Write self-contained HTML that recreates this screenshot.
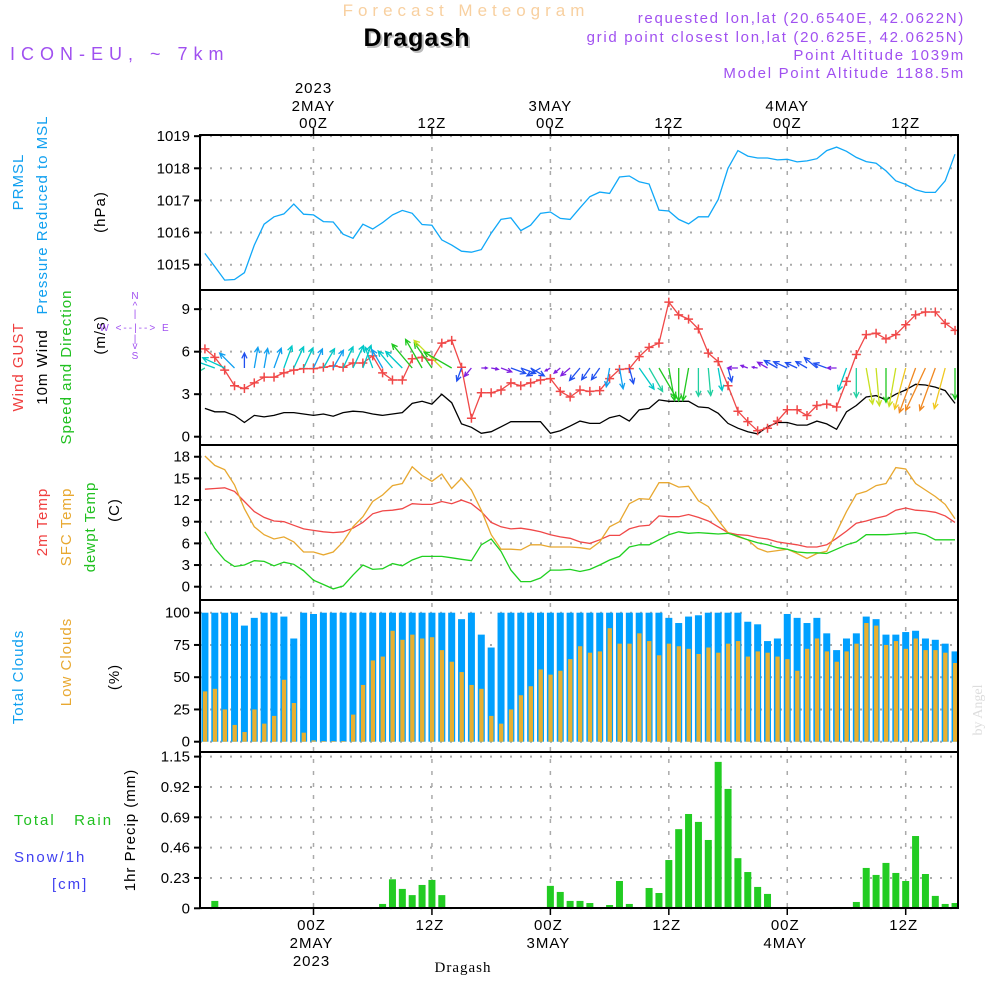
<!DOCTYPE html>
<html><head><meta charset="utf-8"><title>Meteogram Dragash</title>
<style>
html,body{margin:0;padding:0;background:#fff;}
svg{display:block;font-family:"Liberation Sans",sans-serif;}
.t{font-size:15px;letter-spacing:1px;}
.tick{font-size:15px;text-anchor:end;}
.pur{fill:#a050f0;font-size:15px;letter-spacing:1.7px;}
</style></head>
<body>
<svg id="chart" width="1000" height="1000" viewBox="0 0 1000 1000">
<defs><clipPath id="plotclip"><rect x="200" y="135" width="758" height="775"/></clipPath></defs>
<text x="466" y="16" text-anchor="middle" style="font-size:17px;fill:#f8d0a0;letter-spacing:5px">Forecast Meteogram</text>
<text x="419" y="48" text-anchor="middle" style="font-size:25px;font-weight:bold;fill:#bbb;letter-spacing:1px">Dragash</text>
<text x="417" y="46" text-anchor="middle" style="font-size:25px;font-weight:bold;fill:#000;letter-spacing:1px">Dragash</text>
<text x="10" y="60" class="pur" style="font-size:18px;letter-spacing:6px">ICON-EU, ~ 7km</text>
<text x="965" y="23" text-anchor="end" class="pur">requested lon,lat (20.6540E, 42.0622N)</text>
<text x="965" y="42" text-anchor="end" class="pur">grid point closest lon,lat (20.625E, 42.0625N)</text>
<text x="965" y="60" text-anchor="end" class="pur">Point Altitude 1039m</text>
<text x="965" y="78" text-anchor="end" class="pur">Model Point Altitude 1188.5m</text>

<g class="t">
<text transform="translate(23,182) rotate(-90)" text-anchor="middle" fill="#10a0f0">PRMSL</text>
<text transform="translate(47,215) rotate(-90)" text-anchor="middle" fill="#10a0f0">Pressure Reduced to MSL</text>
<text transform="translate(105,212) rotate(-90)" text-anchor="middle" fill="#000">(hPa)</text>
<text transform="translate(23,367) rotate(-90)" text-anchor="middle" fill="#f04040">Wind GUST</text>
<text transform="translate(47,367) rotate(-90)" text-anchor="middle" fill="#000">10m Wind</text>
<text transform="translate(71,367) rotate(-90)" text-anchor="middle" fill="#20c020">Speed and Direction</text>
<text transform="translate(105,335) rotate(-90)" text-anchor="middle" fill="#000">(m/s)</text>
<text transform="translate(47,522) rotate(-90)" text-anchor="middle" fill="#f04040">2m Temp</text>
<text transform="translate(71,527) rotate(-90)" text-anchor="middle" fill="#e8a830">SFC Temp</text>
<text transform="translate(95,527) rotate(-90)" text-anchor="middle" fill="#20c020">dewpt Temp</text>
<text transform="translate(119,510) rotate(-90)" text-anchor="middle" fill="#000">(C)</text>
<text transform="translate(23,677) rotate(-90)" text-anchor="middle" fill="#10a0f0">Total Clouds</text>
<text transform="translate(71,662) rotate(-90)" text-anchor="middle" fill="#e8a830">Low Clouds</text>
<text transform="translate(119,677) rotate(-90)" text-anchor="middle" fill="#000">(%)</text>
<text x="14" y="825" fill="#20c020" style="letter-spacing:2px" xml:space="preserve">Total   Rain</text>
<text x="14" y="862" fill="#4040f0" style="letter-spacing:2px">Snow/1h</text>
<text x="52" y="889" fill="#4040f0" style="letter-spacing:2px">[cm]</text>
<text transform="translate(135,830) rotate(-90)" text-anchor="middle" fill="#000">1hr Precip (mm)</text>
</g>
<g style="font-size:10px;fill:#a050f0" text-anchor="middle">
<text x="135" y="299">N</text><text x="135" y="309">^</text><text x="135" y="317">|</text>
<text x="135" y="331" style="letter-spacing:2px">W &lt;--|--&gt; E</text>
<text x="135" y="342">|</text><text x="135" y="349">v</text><text x="135" y="359">S</text>
</g>
<text transform="translate(982,710) rotate(-90)" text-anchor="middle" style="font-size:14px;fill:#ddd;font-family:'Liberation Serif',serif">by Angel</text>
<text x="463" y="972" text-anchor="middle" style="font-size:15px;font-family:'Liberation Serif',serif;letter-spacing:1px">Dragash</text>
<g id="grid"></g>
<g id="marks" clip-path="url(#plotclip)"></g>
<g id="frames"></g>
<g id="labels"></g>
</svg>
<script>
const startHour = -11;
const pressure = [1015.35,1014.94,1014.52,1014.54,1014.75,1015.61,1016.26,1016.49,1016.58,1016.89,
1016.57,1016.55,1016.34,1016.33,1015.95,1015.82,1016.26,1016.11,1016.31,1016.55,
1016.69,1016.60,1016.25,1016.23,1015.77,1015.61,1015.42,1015.39,1015.47,1015.98,
1016.41,1016.46,1016.06,1016.23,1016.60,1016.64,1016.44,1016.41,1016.77,1017.12,
1017.26,1017.22,1017.73,1017.76,1017.58,1017.51,1016.70,1016.67,1016.41,1016.27,
1016.49,1016.49,1017.03,1018.0,1018.55,1018.38,1018.32,1018.32,1018.26,1018.28,
1018.20,1018.23,1018.30,1018.55,1018.66,1018.53,1018.34,1018.21,1018.16,1017.92,
1017.61,1017.50,1017.33,1017.25,1017.25,1017.61,1018.44];
const gust = [6.2,5.6,4.7,3.6,3.4,3.8,4.2,4.2,4.5,4.7,
4.8,4.8,4.9,5.0,4.9,5.2,5.2,5.7,4.5,4.0,
4.0,5.5,5.6,5.4,6.6,6.8,4.9,1.3,3.1,3.1,
3.3,3.8,3.6,3.8,4.0,4.1,3.2,2.8,3.3,3.2,
3.25,4.1,4.75,4.8,5.65,6.3,6.6,9.5,8.6,8.3,
7.6,5.9,5.3,3.6,1.8,1.06,0.42,0.6,1.1,1.9,
1.9,1.5,2.2,2.3,2.1,3.9,5.8,7.2,7.3,6.9,
7.2,7.9,8.6,8.8,8.8,8.0,7.5];
const windSpeed = [2.0,1.76,1.76,1.5,1.0,1.5,1.4,1.5,1.7,1.7,
1.6,1.5,1.6,1.45,1.7,1.8,1.75,1.6,1.5,1.6,
1.7,2.35,2.5,2.3,3.0,2.4,0.9,0.66,0.24,0.35,
0.7,1.06,1.06,1.06,1.06,0.24,0.42,0.75,1.1,0.94,
0.94,1.34,1.5,1.1,1.9,2.0,2.6,2.5,2.5,2.5,
2.1,2.05,1.65,0.94,0.6,0.35,0.2,0.7,1.0,1.0,
0.82,0.82,1.1,0.9,0.52,1.76,2.2,2.8,2.9,2.6,
3.0,3.3,3.7,3.65,3.5,3.25,2.35];
const windDir = [240,290,295,315,0,10,10,20,20,25,
25,25,30,30,25,25,20,340,330,320,
315,320,330,325,315,300,200,220,90,100,
110,110,110,120,240,240,230,230,220,215,
215,190,170,165,145,150,150,170,180,190,
180,175,170,165,270,290,280,300,300,295,
295,300,310,290,270,200,180,170,175,180,
190,195,200,205,200,195,180];
const temp2m = [13.5,13.6,13.7,13.2,11.8,10.4,9.6,9.1,9.0,8.5,
8.0,7.8,7.6,7.5,7.6,8.1,8.9,10.1,10.5,10.6,
10.8,11.5,11.4,11.4,11.8,11.5,12.0,11.5,10.4,8.9,
8.3,8.0,8.1,7.9,7.6,7.2,6.9,6.7,6.2,6.0,
6.5,7.1,7.1,8.0,8.4,8.5,9.8,9.7,9.7,10.0,
9.6,9.1,8.3,7.5,7.2,7.1,6.8,6.6,6.2,6.0,
5.8,5.5,5.5,5.8,6.7,7.7,8.8,9.1,9.5,9.8,
10.6,10.9,10.6,10.5,10.3,9.8,8.9];
const tempSfc = [18.1,16.8,16.2,14.1,10.8,8.3,7.2,6.6,6.9,6.2,
4.8,4.8,4.4,4.8,6.2,8.3,9.7,11.8,12.7,14.0,
14.3,16.6,15.4,14.6,15.6,13.6,15.0,13.4,10.6,7.2,
5.2,5.2,5.1,5.8,5.8,5.5,5.5,5.5,5.4,5.2,
6.2,8.3,9.0,11.5,12.2,12.1,14.4,14.4,13.8,13.9,
11.9,11.1,9.2,7.5,6.9,6.5,5.3,4.8,5.0,5.2,
4.6,3.9,4.6,4.9,7.6,10.4,12.8,13.2,14.0,14.3,
16.5,16.3,14.3,13.4,12.5,11.4,9.4];
const dewpt = [7.6,5.3,3.7,2.8,3.0,3.6,3.5,2.9,3.4,3.1,
2.2,0.9,0.3,-0.3,0.1,1.6,3.0,2.4,2.5,3.2,
2.9,3.7,4.2,4.2,4.2,4.0,3.8,3.6,5.8,6.6,
4.9,2.3,0.7,0.7,1.2,2.3,2.3,2.4,2.1,2.4,
3.0,3.7,4.2,5.5,5.8,5.8,6.5,7.2,7.6,7.4,
7.5,7.4,7.3,7.4,7.0,6.5,6.1,5.8,5.4,5.2,
4.8,4.7,4.7,4.6,5.2,5.8,6.2,7.2,7.2,7.2,
7.3,7.4,7.5,7.2,6.5,6.5,6.5];
const totalClouds = [100,100,100,100,90,96,100,100,97,80,
100,99,100,100,100,100,100,100,100,100,
100,100,100,100,100,100,95,100,83,73,
100,100,100,100,100,100,100,100,100,100,
100,100,100,100,100,100,100,96,92,97,
98,100,100,100,100,93,91,78,80,99,
96,92,96,84,71,80,84,97,95,83,
83,85,86,80,79,76,70];
const lowClouds = [39,41,25,13,7.5,25,14,20,48,30,
7,1,0.5,0.5,0.5,21,44,63,66,86,
79,83,80,81,71,62,54,44,41,20,
14,25,36,43,56,52,55,64,74,69,
70,88,76,76,84,78,67,76,74,72,
68,73,69,76,78,66,70,69,66,64,
55,72,80,70,62,70,76,92,90,75,
78,72,80,71,71,69,61];
const precip = [0,0.056,0.008,0,0,0,0,0,0,0,
0,0,0,0,0,0,0,0,0.033,0.22,
0.147,0.10,0.177,0.215,0.10,0,0,0,0,0,
0,0,0,0,0.01,0.17,0.124,0.056,0.056,0.04,
0,0.025,0.207,0.033,0,0.154,0.116,0.366,0.60,0.715,
0.655,0.518,1.11,0.905,0.38,0.275,0.162,0.109,0,0,
0,0,0,0,0.01,0,0.048,0.306,0.253,0.344,
0.268,0.207,0.548,0.26,0.094,0.033,0.04];
const pTicks = [1019,1018,1017,1016,1015];
const wTicks = [9,6,3,0];
const tTicks = [18,15,12,9,6,3,0];
const cTicks = [100,75,50,25,0];
const rTicks = [1.15,0.92,0.69,0.46,0.23,0];
const timeTicks = [0,12,24,36,48,60];
const topTickLabels = ["00Z","12Z","00Z","12Z","00Z","12Z"];
const dayLabels = {0:"2MAY",24:"3MAY",48:"4MAY"};

const NS="http://www.w3.org/2000/svg";
const X = h => 313.5 + h*9.87;
const yP = p => 168.3 + (1018-p)*32.13;
const yW = v => 436.7 - v*14.17;
const yT = t => 586.7 - t*7.22;
const yC = c => 741.7 - c*1.29;
const yR = r => 908.3 - r*131.9;
const panels=[[135,290],[290,445],[445,600],[600,752],[752,908]];
const grid=document.getElementById('grid'), marks=document.getElementById('marks'), frames=document.getElementById('frames'), labels=document.getElementById('labels');
function mk(tag, parent, attrs){const e=document.createElementNS(NS,tag);for(const k in attrs)e.setAttribute(k,attrs[k]);parent.appendChild(e);return e;}
function hline(y,dn){const l=mk('line',grid,{x1:200,x2:958,y1:y,y2:y,stroke:'#aaa','stroke-width':2,'stroke-dasharray':'2,8'});

}
function tickLabel(y,txt,dn){const t=mk('text',labels,{x:190,y:y+5,class:'tick'});t.textContent=txt;


mk('line',labels,{x1:194,x2:200,y1:y,y2:y,stroke:'#000','stroke-width':2});}
pTicks.forEach(v=>{hline(yP(v),'pressure-gridline');tickLabel(yP(v),String(v),'pressure-tick');});
wTicks.forEach(v=>{hline(yW(v),'wind-gridline');tickLabel(yW(v),String(v),'wind-tick');});
tTicks.forEach(v=>{hline(yT(v),'temp-gridline');tickLabel(yT(v),String(v),'temp-tick');});
cTicks.forEach(v=>{hline(yC(v),'cloud-gridline');tickLabel(yC(v),String(v),'cloud-tick');});
rTicks.forEach(v=>{hline(yR(v),'precip-gridline');tickLabel(yR(v),v===0?'0':v.toFixed(2),'precip-tick');});
timeTicks.forEach((h,i)=>{
  const x=X(h);
  const l=mk('line',grid,{x1:x,x2:x,y1:135,y2:908,stroke:'#aaa','stroke-width':1.5,'stroke-dasharray':'4,8'});
  
  
  mk('line',labels,{x1:x,x2:x,y1:128,y2:135,stroke:'#000','stroke-width':1.5});
  mk('line',labels,{x1:x,x2:x,y1:908,y2:915,stroke:'#000','stroke-width':1.5});
  const a=mk('text',labels,{x:x,y:128,'text-anchor':'middle',class:'t'});a.textContent=topTickLabels[i];
  
  
  const b=mk('text',labels,{x:x-2,y:930,'text-anchor':'middle',class:'t'});b.textContent=topTickLabels[i];
  
  
  if(dayLabels[h]){
    const c=mk('text',labels,{x:x,y:111,'text-anchor':'middle',class:'t'});c.textContent=dayLabels[h];
    
    
    const d=mk('text',labels,{x:x-2,y:948,'text-anchor':'middle',class:'t'});d.textContent=dayLabels[h];
    
    
    if(h===0){
      const e=mk('text',labels,{x:x,y:93,'text-anchor':'middle',class:'t'});e.textContent='2023';
      
      
      const f=mk('text',labels,{x:x-2,y:966,'text-anchor':'middle',class:'t'});f.textContent='2023';
      
      
    }
  }
});
totalClouds.forEach((v,i)=>{const h=startHour+i;
  const r=mk('rect',marks,{x:X(h)-3.5,y:yC(v),width:7,height:yC(0)-yC(v),fill:'#00a0ff'});
  
  });
lowClouds.forEach((v,i)=>{const h=startHour+i;
  const r=mk('rect',marks,{x:X(h)-2,y:yC(v),width:4.3,height:yC(0)-yC(v),fill:'#e8b030'});
  
  });
precip.forEach((v,i)=>{if(v<=0)return;const h=startHour+i;
  const r=mk('rect',marks,{x:X(h)-3.5,y:yR(v),width:7,height:yR(0)-yR(v),fill:'#22cc22'});
  
  });
function line(arr,yf,color,dn,w){
  const pts=arr.map((v,i)=>X(startHour+i).toFixed(1)+','+yf(v).toFixed(1)).join(' ');
  const p=mk('polyline',marks,{points:pts,fill:'none',stroke:color,'stroke-width':w||1.3});
  
  
}
line(pressure,yP,'#10a8f8','pressure-line');
line(windSpeed,yW,'#000','wind-speed-line');
line(gust,yW,'#f04848','gust-line');
gust.forEach((v,i)=>{const x=X(startHour+i),y=yW(v);
  const g=mk('path',marks,{d:`M${x-4.5},${y}h9M${x},${y-4.5}v9`,stroke:'#f04848','stroke-width':1.5});
  
  });
function windColor(s){if(s<0.8)return '#8020e0';if(s<1.3)return '#2050f0';if(s<1.6)return '#10a0f0';if(s<2.0)return '#00c8c8';if(s<2.3)return '#20d0a0';if(s<2.8)return '#20c820';if(s<3.1)return '#c8e020';if(s<3.45)return '#f0c820';return '#f08820';}
windDir.forEach((d,i)=>{const h=startHour+i,s=windSpeed[i];const L=12*s+3;const a=d*Math.PI/180;
  const x0=X(h),y0=368,x1=x0+L*Math.sin(a),y1=y0-L*Math.cos(a);
  const hl=Math.min(6,L*0.45),a1=a+Math.PI-0.45,a2=a+Math.PI+0.45;
  const path=`M${x0.toFixed(1)},${y0}L${x1.toFixed(1)},${y1.toFixed(1)}M${(x1+hl*Math.sin(a1)).toFixed(1)},${(y1-hl*Math.cos(a1)).toFixed(1)}L${x1.toFixed(1)},${y1.toFixed(1)}L${(x1+hl*Math.sin(a2)).toFixed(1)},${(y1-hl*Math.cos(a2)).toFixed(1)}`;
  const p=mk('path',marks,{d:path,fill:'none',stroke:windColor(s),'stroke-width':1.3});
  
  });
line(temp2m,yT,'#f04848','temp-2m-line');
line(tempSfc,yT,'#e8a830','temp-sfc-line');
line(dewpt,yT,'#20d020','dewpoint-line');
panels.forEach(([a,b])=>{const r=mk('rect',frames,{x:200,y:a,width:758,height:b-a,fill:'none',stroke:'#000','stroke-width':2});
  
  });
</script>
</body></html>
